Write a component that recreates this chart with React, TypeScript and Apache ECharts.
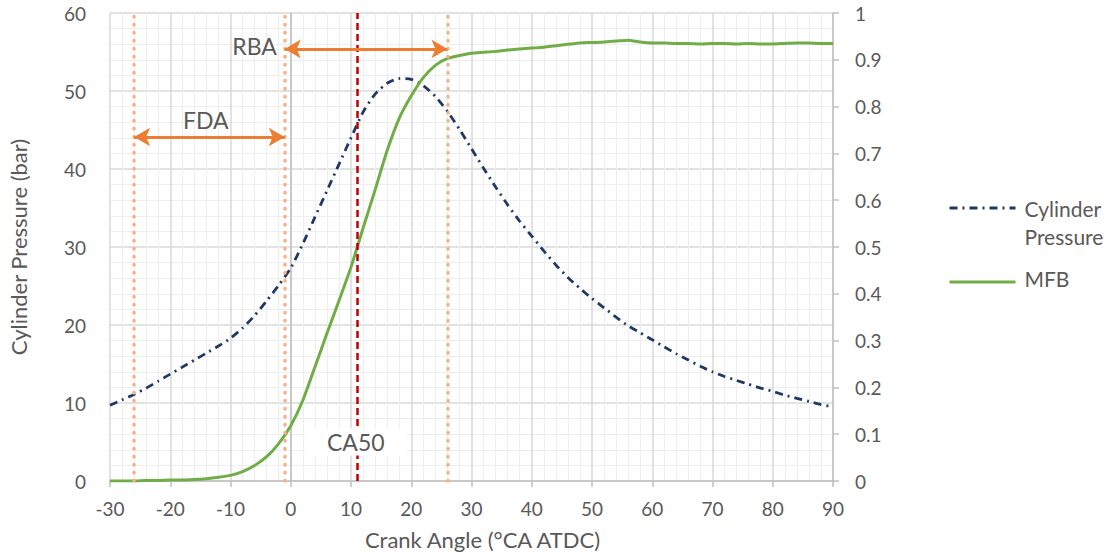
import React, { useEffect, useRef } from "react";
import * as echarts from "echarts";

const angles = [-30,-28,-26,-24,-22,-20,-18,-16,-14,-12,-10,-8,-6,-4,-2,0,2,4,6,8,10,12,14,16,18,20,22,24,26,28,30,32,34,36,38,40,42,44,46,48,50,52,54,56,58,60,62,64,66,68,70,72,74,76,78,80,82,84,86,88,90];
const pressure = [9.7,10.4,11.1,11.9,12.8,13.7,14.6,15.5,16.4,17.3,18.3,19.6,21.2,23.1,25.1,27.3,30.4,33.8,37.2,40.6,44.0,47.3,49.6,51.0,51.6,51.5,50.7,49.3,47.4,45.1,42.6,40.1,37.7,35.4,33.3,31.4,29.5,27.7,26.1,24.7,23.4,22.2,21.0,19.9,19.0,18.1,17.2,16.3,15.5,14.7,14.0,13.4,12.9,12.4,11.9,11.5,11.0,10.6,10.2,9.8,9.5];
const mfb = [0,0,0,0.001,0.001,0.002,0.002,0.003,0.005,0.008,0.012,0.02,0.033,0.052,0.08,0.118,0.172,0.243,0.315,0.385,0.457,0.54,0.622,0.706,0.775,0.823,0.862,0.888,0.903,0.909,0.914,0.916,0.918,0.921,0.923,0.925,0.927,0.930,0.933,0.936,0.937,0.938,0.940,0.942,0.938,0.936,0.936,0.935,0.935,0.934,0.935,0.935,0.934,0.935,0.934,0.934,0.935,0.936,0.936,0.935,0.935];

const boundaryLines = [-26, -1, 26];
const ca50 = 11;
const fda = { from: -26, to: -1, y: 44.1, labelX: -14.1, labelY: 46.3 };
const rba = { from: -1, to: 26, y: 55.4, labelX: -6.0, labelY: 55.8 };
const ca50Label = { x: 10.8, y: 5.0 };

const FONT = "Lato, 'Open Sans', sans-serif";
const TXT = "#595959";

export default function App() {
  const ref = useRef<HTMLDivElement>(null);
  useEffect(() => {
    document.body.style.margin = "0";
    const chart = echarts.init(ref.current!, null, { renderer: "svg" });
    const pData = angles.map((a, i) => [a, pressure[i]]);
    const mData = angles.map((a, i) => [a, mfb[i]]);
    const dash = [8, 5, 2, 5];
    chart.setOption({
      animation: false,
      textStyle: { fontFamily: FONT },
      grid: { left: 110, right: 281, top: 13, bottom: 73, outerBoundsMode: "none", containLabel: false },
      xAxis: {
        type: "value", min: -30, max: 90, interval: 10,
        name: "Crank Angle (°CA ATDC)", nameLocation: "middle", nameGap: 47,
        nameTextStyle: { fontSize: 22, color: TXT, fontFamily: FONT, padding: [0, 0, 0, 22] },
        axisLine: { show: true, onZero: false, lineStyle: { color: "#bfbfbf", width: 1.5 } },
        axisTick: { show: true, length: 6, lineStyle: { color: "#bfbfbf", width: 1.5 } },
        axisLabel: { fontSize: 19, color: TXT, margin: 18, fontFamily: FONT },
        splitLine: { show: true, lineStyle: { color: "#d9d9d9", width: 1.5 } },
        minorTick: { show: false, splitNumber: 5 },
        minorSplitLine: { show: true, lineStyle: { color: "#eeeeee", width: 1.2 } },
      },
      yAxis: [
        {
          type: "value", min: 0, max: 60, interval: 10,
          name: "Cylinder Pressure (bar)", nameLocation: "middle", nameGap: 81,
          nameTextStyle: { fontSize: 22, color: TXT, fontFamily: FONT },
          axisLine: { show: true, lineStyle: { color: "#bfbfbf", width: 1.5 } },
          axisTick: { show: false },
          axisLabel: { fontSize: 19, color: TXT, margin: 24, fontFamily: FONT },
          splitLine: { show: true, lineStyle: { color: "#d9d9d9", width: 1.5 } },
          minorTick: { show: false, splitNumber: 5 },
          minorSplitLine: { show: true, lineStyle: { color: "#eeeeee", width: 1.2 } },
        },
        {
          type: "value", min: 0, max: 1, interval: 0.1,
          position: "right",
          axisLine: { show: true, lineStyle: { color: "#bfbfbf", width: 1.5 } },
          axisTick: { show: true, length: 6, lineStyle: { color: "#bfbfbf", width: 1.5 } },
          axisLabel: { fontSize: 19, color: TXT, margin: 22, fontFamily: FONT },
          splitLine: { show: false },
        },
      ],
      series: [
        {
          name: "Boundaries", type: "line", data: [], z: 3,
          markLine: {
            silent: true, symbol: "none", label: { show: false },
            lineStyle: { color: "#f4b183", width: 3.5, type: [0.5, 7.5], cap: "round" },
            data: boundaryLines.map((v) => ({ xAxis: v })),
          },
        },
        {
          name: "CA50 line", type: "line", data: [], z: 3,
          markLine: {
            silent: true, symbol: "none", label: { show: false },
            lineStyle: { color: "#c00000", width: 2.5, type: [7, 4] },
            data: [{ xAxis: ca50 }],
          },
        },
        {
          name: "Cylinder Pressure", type: "line", yAxisIndex: 0, data: pData,
          showSymbol: false, smooth: 0.2, z: 4,
          lineStyle: { color: "#203864", width: 2.8, type: dash },
        },
        {
          name: "MFB", type: "line", yAxisIndex: 1, data: mData,
          showSymbol: false, smooth: 0.2, z: 4,
          lineStyle: { color: "#70ad47", width: 3 },
        },
        {
          name: "Arrows", type: "line", data: [], z: 5,
          markLine: {
            silent: true, symbol: ["arrow", "arrow"], symbolSize: [14, 16],
            label: { show: false },
            lineStyle: { color: "#ed7d31", width: 3, type: "solid" },
            data: [
              [{ coord: [fda.from, fda.y] }, { coord: [fda.to, fda.y] }],
              [{ coord: [rba.from, rba.y] }, { coord: [rba.to, rba.y] }],
            ],
          },
          markPoint: {
            silent: true, symbol: "circle", symbolSize: 0,
            label: { show: true, position: "inside", fontSize: 23, color: TXT, fontFamily: FONT },
            data: [
              { coord: [fda.labelX, fda.labelY], label: { formatter: "FDA" } },
              { coord: [rba.labelX, rba.labelY], label: { formatter: "RBA" } },
            ],
          },
        },
        {
          name: "CA50 label", type: "line", data: [], z: 6,
          markPoint: {
            silent: true, symbol: "circle", symbolSize: 0,
            label: {
              show: true, position: "inside", fontSize: 23, color: TXT, fontFamily: FONT,
              backgroundColor: "#ffffff", padding: [2, 22, 2, 22],
            },
            data: [{ coord: [ca50Label.x, ca50Label.y], label: { formatter: "CA50" } }],
          },
        },
      ],
      graphic: [
        {
          type: "group", left: 947, top: 194,
          children: [
            { type: "line", shape: { x1: 0, y1: 14, x2: 66, y2: 14 }, style: { stroke: "#203864", lineWidth: 3, lineDash: dash } },
            { type: "text", x: 75, y: 0, style: { text: "Cylinder\nPressure", font: `21px ${FONT}`, fill: TXT, lineHeight: 28 } },
            { type: "line", shape: { x1: 0, y1: 88, x2: 66, y2: 88 }, style: { stroke: "#70ad47", lineWidth: 3 } },
            { type: "text", x: 75, y: 74, style: { text: "MFB", font: `21px ${FONT}`, fill: TXT } },
          ],
        },
      ],
    });
    return () => chart.dispose();
  }, []);
  return <div ref={ref} style={{ width: 1114, height: 554 }} />;
}
